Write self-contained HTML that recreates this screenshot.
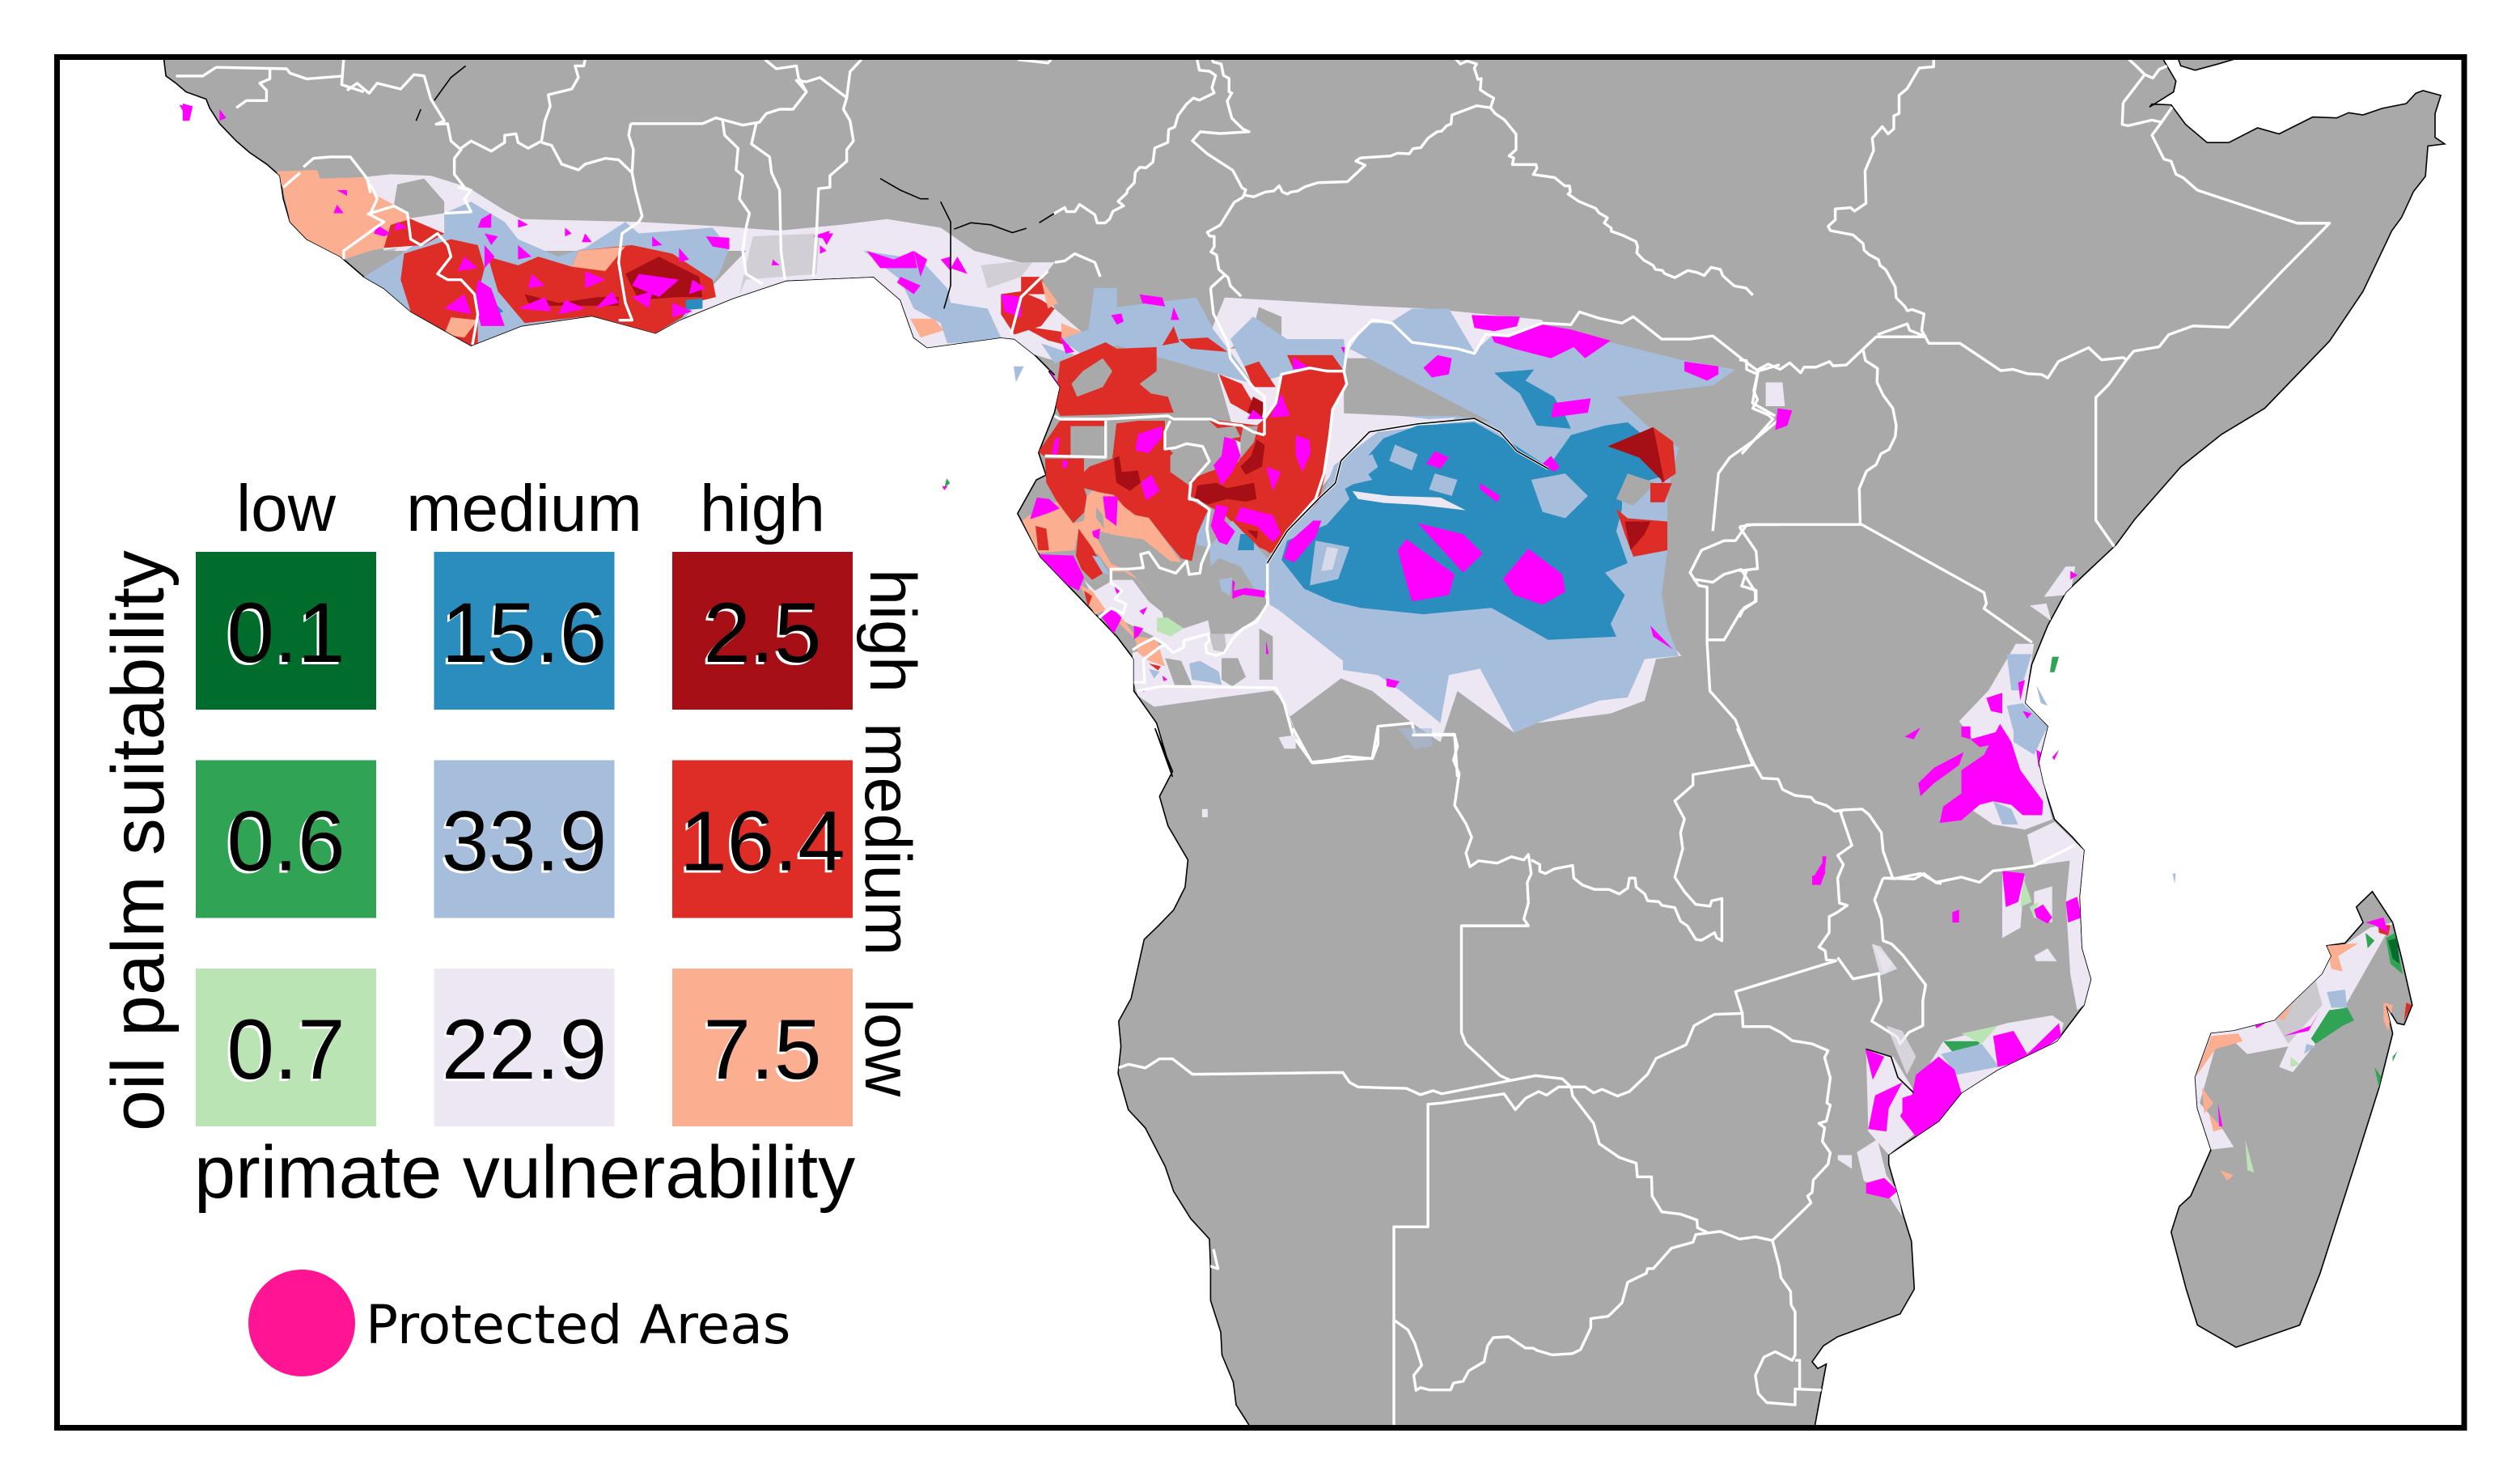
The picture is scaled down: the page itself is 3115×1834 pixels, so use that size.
<!DOCTYPE html>
<html lang="en">
<head>
<meta charset="utf-8">
<title>Oil palm suitability and primate vulnerability map</title>
<style>
html,body{margin:0;padding:0;background:#fff;width:3115px;height:1834px;overflow:hidden}
svg{display:block}
.lav{fill:#ece7f2}.lb{fill:#a6bddb}.bl{fill:#2b8cbe}.dr{fill:#a50f15}.rd{fill:#de2d26}.sa{fill:#fcae91}
.mg{fill:#ff00ff}.lg{fill:#bae4b3}.gr{fill:#31a354}.dg{fill:#006d2c}.ld{fill:#a9a9a9}
.b polyline{fill:none;stroke:#fff;stroke-width:3.4;vector-effect:non-scaling-stroke;stroke-linejoin:round}
.k polyline{fill:none;stroke:#000;stroke-width:1.6;vector-effect:non-scaling-stroke}
text{font-family:"Liberation Sans",sans-serif;fill:#000}
</style>
</head>
<body>
<svg id="fig" xmlns="http://www.w3.org/2000/svg" width="3115" height="1834" viewBox="0 0 3115 1834">
<defs>
<clipPath id="fc"><rect x="70" y="70" width="2976" height="1694"/></clipPath>
<clipPath id="lc"><path id="lc1"/><path id="lc2"/></clipPath>
</defs>
<rect width="3115" height="1834" fill="#fff"/>
<g clip-path="url(#fc)">
<path id="land" fill="#a9a9a9" stroke="#000" stroke-width="1.6"/>
<path id="madagascar" fill="#a9a9a9" stroke="#000" stroke-width="1.6"/>
<path id="yemen" fill="#a9a9a9" stroke="#000" stroke-width="1.6"/>

<g clip-path="url(#lc)">
<!-- West Africa -->
<g transform="translate(60,60) scale(.8291,.3571)">
<polygon class="lav" points="470,445 510,435 570,440 625,480 680,560 705,590 880,600 1000,615 1090,630 1180,610 1250,590 1330,620 1380,700 1450,740 1500,740 1480,800 1500,900 1540,980 1568,1060 1500,1080 1470,1060 1420,1000 1310,1035 1290,1000 1270,870 1230,790 1100,803 1020,865 940,940 1040,700 900,700 700,700 600,700 500,700"/>
<polygon class="ld" points="520,470 560,450 590,530 590,570 530,590 515,540"/>
<polygon class="ld" opacity=".4" points="1050,650 1150,640 1145,780 1040,800 1030,850"/>
<polygon class="ld" opacity=".4" points="1390,750 1470,730 1450,790 1400,830"/>
<polygon class="lb" points="590,570 630,530 680,600 700,660 760,720 800,690 860,600 880,640 990,620 1015,690 1000,780 950,930 905,985 705,960 632,1028 540,910 470,790 520,720 545,680 590,640"/>
<polygon class="lb" points="1215,700 1300,730 1340,830 1345,880 1400,900 1420,1000 1375,1015 1340,1020 1330,950 1290,900 1270,800"/>
<polygon class="sa" points="340,425 400,420 405,450 470,445 490,510 530,560 545,600 520,680 480,700 440,730 385,660 360,600 350,490"/>
<polygon class="ld" opacity=".7" points="470,710 520,690 500,730 450,745"/>
<polygon class="sa" points="1285,935 1320,935 1335,975 1300,1000"/>
<polygon class="rd" points="530,710 600,660 640,680 650,760 640,850 640,1020 630,1028 540,910 525,800"/>
<polygon class="rd" points="655,720 700,750 730,720 780,755 790,700 870,680 930,710 990,800 995,860 960,880 945,930 905,985 810,925 710,950 670,840"/>
<polygon class="rd" points="510,610 540,590 590,640 560,680 500,690"/>
<polygon class="sa" points="780,755 790,700 860,685 830,770"/>
<polygon class="sa" points="600,930 640,940 620,1000 590,990"/>
<polygon class="rd" points="1420,850 1450,840 1480,870 1500,900 1480,960 1440,990 1420,920"/>
<polygon class="rd" points="1450,790 1480,790 1490,850 1450,850"/>
<polygon class="sa" points="1480,800 1505,880 1490,900"/>
<polygon class="rd" points="1450,960 1540,990 1540,1040 1490,1010"/>
<polygon class="sa" points="1510,950 1540,980 1510,1010"/>
<polygon class="lb" points="1480,1020 1530,1060 1500,1090"/>
<polygon class="bl" points="950,870 975,865 975,900 950,905"/>
<polygon class="bl" points="665,880 678,910 668,920"/>
<polygon class="dr" points="710,850 760,880 820,860 850,860 850,890 790,890 740,890 715,880"/>
<polygon class="dr" points="860,780 910,720 970,790 975,860 940,860 880,870"/>
<g class="mg">
<polygon points="640,800 660,830 680,960 645,960 635,880"/><polygon points="620,720 640,760 610,770"/><polygon points="490,610 510,640 500,650 485,640"/><polygon points="700,680 720,720 700,730"/><polygon points="800,640 810,670 795,670"/><polygon points="980,650 1015,655 1015,695 990,685"/><polygon points="1220,700 1260,730 1290,700 1295,760 1240,760"/><polygon points="1420,850 1450,860 1450,930 1425,910"/><polygon points="840,840 850,880 815,900"/><polygon points="770,870 800,900 760,920"/><polygon points="880,780 940,800 910,860 870,820"/><polygon points="1270,790 1300,820 1290,850 1265,810"/><polygon points="1355,720 1370,780 1345,760"/><polygon points="430,490 445,490 445,510"/><polygon points="255,210 265,240 255,250"/><polygon points="645,590 660,570 660,620 640,620"/><polygon points="650,640 670,650 660,680"/><polygon points="700,590 715,610 700,620"/><polygon points="620,850 590,900 630,920"/><polygon points="1290,700 1310,730 1300,790"/><polygon points="1150,640 1170,640 1160,680"/>
<polygon points="700,900 740,860 750,910"/><polygon points="870,860 900,840 895,900"/><polygon points="930,880 960,910 930,930"/><polygon points="720,780 740,820 715,830"/><polygon points="800,770 830,800 800,830"/><polygon points="1330,730 1345,720 1345,770"/><polygon points="770,620 780,640 770,650"/><polygon points="1140,650 1165,630 1160,660"/><polygon points="1080,730 1090,750 1078,750"/><polygon points="1150,680 1160,700 1150,710"/><polygon points="650,680 665,720 650,760"/><polygon points="940,690 955,730 940,740"/><polygon points="900,650 915,680 900,685"/><polygon points="960,800 980,830 955,850"/><polygon points="430,540 440,570 425,570"/><polygon points="520,600 535,620 515,630"/>
</g>
<g class="k">
<polyline points="622,60 600,100 575,180"/><polyline points="548,250 555,210"/><polyline points="1240,450 1270,490 1300,520 1312,520"/><polyline points="1330,530 1345,600 1345,820 1335,900"/><polyline points="1350,625 1375,603 1405,610 1437,637 1458,622"/><polyline points="1477,603 1515,548"/>
</g>
<g class="b">
<polyline points="190,95 230,95 250,65 355,70 360,85 385,105 440,95"/>
<polyline points="440,38 437,125 470,150"/>
<polyline points="445,145 460,120 478,155 490,120 525,140 545,90 560,95 570,175 590,250 578,262 595,260 600,320 615,350 605,380 605,435 620,480"/>
<polyline points="330,70 330,105 315,120 325,145 325,180 295,180 280,205"/>
<polyline points="800,38 798,60 785,60 790,100 780,140 745,160 748,200 740,250 735,320 715,345 700,325 697,295 680,300 680,325 660,355 630,320 612,350"/>
<polyline points="735,325 750,335 765,400 790,420 800,400 830,380 850,385 870,430 875,490 885,580 880,600 855,640 850,740 860,880 870,940 850,940"/>
<polyline points="868,260 975,260 995,240 1035,265 1060,255 1070,225 1090,210 1110,210 1130,150 1115,110 1130,115 1150,100 1190,170 1185,210 1195,250 1200,320 1190,350 1190,390 1165,440 1165,480 1148,485 1145,640 1140,790"/>
<polyline points="868,260 865,300 872,350 870,430"/>
<polyline points="1005,250 1008,300 1028,345 1025,420 1035,440 1030,520 1045,570 1040,620 1035,700 1040,780 1065,815"/>
<polyline points="1055,260 1048,330 1075,375 1078,430 1090,490 1092,700 1098,800"/>
<polyline points="1068,38 1085,70 1115,60 1118,100 1130,150"/>
<polyline points="1212,38 1195,80 1190,170"/>
<polyline points="1445,38 1490,50 1495,38"/>
<polyline points="1500,740 1515,735 1530,710 1560,740 1568,790"/>
<polyline points="1490,770 1450,860 1435,990"/>
<polyline points="380,410 395,380 420,375 450,375 475,450 480,500"/>
<polyline points="350,480 375,430"/>
<polyline points="480,470 490,520 480,570 515,545 535,570 540,660 555,680 580,640 595,680 600,720 580,780 595,800 615,800 635,850 640,920 632,1025"/>
<polyline points="475,570 500,600 440,700 440,730"/>
<polyline points="610,480 630,490 620,520 630,565 590,570"/>
</g>
</g>

<!-- Central Africa fills -->
<g transform="translate(1100,340) scale(.7015,.3954)">
<polygon class="lav" points="590,70 690,80 830,95 950,105 1150,140 1150,260 800,260 800,440 780,620 700,800 640,700 560,200"/>
<polygon class="ld" points="650,100 690,130 690,200 650,230 600,230 640,170"/>
<polygon class="lav" points="660,1000 680,1100 740,1180 780,1250 850,1300 920,1400 970,1460 1000,1300 1100,1430 1140,1400 1270,1370 1330,1330 1350,1200 1395,1190 1350,1100 1000,1000"/>
<polygon class="lb" points="360,40 400,40 400,100 540,70 570,170 600,240 640,340 400,220 340,250 300,200 350,170"/>
<polygon class="lb" points="600,200 640,130 700,200 800,200 805,300 700,310 640,340"/>
<polygon class="lb" points="810,230 840,150 880,150 920,105 985,105 1030,240 1060,190 1270,210 1395,265 1490,295 1450,345 1330,370 1280,380 1340,480 1390,540 1370,680 1370,860 1360,1000 1370,1100 1390,1190 1330,1200 1300,1320 1250,1330 1140,1400 1100,1430 1040,1230 985,1250 970,1400 900,1300 860,1250 780,1230 720,1120 670,1050 665,900 700,800 760,700 790,560 800,440 900,440 1000,440 1060,460"/>
<polygon class="lav" points="780,430 900,440 950,450 1000,445 960,470 860,490 800,570 765,620 775,500"/>
<polygon class="bl" points="870,510 930,470 1030,460 1100,530 1160,600 1200,500 1260,470 1300,460 1340,520 1380,620 1340,640 1290,680 1290,730 1280,800 1300,900 1260,930 1295,1000 1270,1090 1280,1130 1160,1140 1090,1070 1060,1040 940,1060 830,1040 780,1020 730,980 690,890 700,830 770,780 810,700 800,660 850,640 830,590"/>
<polygon class="bl" points="1065,305 1135,295 1120,330 1170,380 1190,440 1200,480 1140,470 1110,370 1080,330"/>
<polygon class="lb" points="800,590 850,560 860,600 830,640 800,670"/>
<polygon class="lb" points="890,530 930,560 920,610 880,580"/>
<polygon class="lb" points="960,620 1000,640 990,690 950,670"/>
<polygon class="lav" points="815,675 880,690 970,695 1015,735 930,718 870,712 825,700"/>
<polygon class="lb" points="1130,640 1190,620 1230,690 1190,760 1150,740"/>
<polygon class="lb" points="750,830 810,850 790,950 740,970"/>
<polygon class="lav" opacity=".7" points="770,850 790,855 780,920 760,925"/>
<polygon class="ld" points="1300,620 1350,650 1310,720 1280,700"/>
<polygon class="rd" points="690,310 740,295 800,300 805,340 780,420 775,500 765,620 750,700 700,800 670,870 620,800 590,750 560,720 530,690 535,640 590,640 610,600 640,480 660,450 680,400"/>
<polygon class="rd" points="300,270 380,210 400,230 470,225 470,300 440,340 460,370 490,380 500,430 300,440 290,400"/>
<polygon class="ld" points="340,300 375,260 392,300 375,350 330,380 320,340"/>
<polygon class="rd" points="510,200 560,195 595,240 530,230"/>
<polygon class="rd" points="480,220 500,160 510,210"/>
<polygon class="rd" points="625,285 650,270 680,350 640,350"/>
<polygon class="rd" points="700,250 780,250 800,300 740,290 710,290"/>
<polygon class="rd" points="580,310 620,340 650,430 640,440 600,400"/>
<polygon class="rd" points="560,450 650,470 660,500 640,540 590,500"/>
<polygon class="rd" points="1345,475 1380,520 1385,620 1360,650"/>
<polygon class="rd" points="1340,650 1378,650 1365,710 1340,710"/>
<polygon class="rd" points="1280,730 1300,760 1370,770 1370,860 1310,880 1295,810"/>
<polygon class="dr" points="640,380 660,400 655,450 630,430"/>
<polygon class="dr" points="1265,535 1345,475 1355,560 1365,650 1320,570"/>
<polygon class="dr" points="1295,770 1340,770 1330,810 1305,860"/>
<g class="mg">
<polygon points="440,60 480,70 485,98 445,88"/><polygon points="390,125 408,120 412,145 400,155"/><polygon points="1025,125 1110,130 1105,160 1065,175 1030,165"/><polygon points="1060,190 1090,190 1150,155 1200,170 1270,205 1225,260 1205,225 1165,260 1100,230 1065,210"/><polygon points="965,250 990,260 985,310 955,320 940,290"/><polygon points="1400,270 1460,285 1460,310 1440,330 1400,300"/><polygon points="1170,400 1235,385 1230,430 1165,445"/><polygon points="960,550 985,570 970,605 945,590"/><polygon points="1040,650 1075,690 1070,710 1040,670"/><polygon points="1165,565 1180,600 1170,615 1150,590"/><polygon points="930,775 1010,810 1045,870 1010,930"/><polygon points="910,825 995,935 985,1000 920,1020 910,960 895,860"/><polygon points="1125,855 1185,935 1190,990 1150,1030 1100,1000 1080,950"/><polygon points="1340,1095 1380,1170 1345,1130"/><polygon points="875,1260 898,1270 890,1290 875,1285"/><polygon points="690,370 705,440 670,445"/><polygon points="640,420 660,450 630,450"/><polygon points="710,255 740,290 710,295"/><polygon points="795,225 802,225 800,245"/><polygon points="500,100 510,140 495,140"/><polygon points="300,190 325,240 310,245"/><polygon points="280,290 300,350 285,330"/>
</g>
</g>

<!-- Gabon / Congo detail -->
<g transform="translate(1240,520) scale(.33333)">
<polygon class="lav" points="480,860 590,830 700,800 770,790 850,790 930,740 985,680 1020,700 1260,890 1260,950 1060,1100 1100,1190 1040,1040 1000,1000 560,1060 500,1020 480,960"/>
<polygon class="ld" points="600,880 660,890 700,980 640,990"/>
<polygon class="ld" points="810,880 870,880 900,950 850,985 810,960"/>
<polygon class="ld" points="950,770 1000,800 1000,960 950,960"/>
<polygon class="ld" opacity=".6" points="760,780 820,780 830,860 780,850"/>
<polygon class="lav" points="300,590 340,630 410,590 480,590 540,670 590,710 600,760 670,770 760,740 770,790 640,850 560,800 440,740 360,700"/>
<polygon class="lb" points="690,900 730,890 800,930 810,980 770,970 700,960"/>
<polygon class="lb" points="540,920 580,930 560,955"/>
<polygon class="lb" points="740,335 765,340 765,470 720,460 710,420"/>
<polygon class="lb" points="765,470 780,450 850,370 980,510 980,640 930,620 880,540 800,510 770,540"/>
<polygon class="lb" points="800,590 850,580 840,650 810,630"/>
<polygon class="bl" points="880,420 930,420 930,480 870,480"/>
<polygon class="rd" points="155,140 300,140 300,190 320,170 405,140 420,10 500,0 600,0 600,90 640,130 620,190 690,240 690,290 760,330 720,420 700,520 660,510 610,450 540,360 490,350 450,320 420,290 340,260 300,250 310,280 300,340 260,380 200,300 160,230"/>
<polygon class="rd" points="130,115 190,30 210,0 380,0 380,20 250,20 250,130 150,130"/>
<polygon class="ld" points="640,110 760,150 700,240 620,190 620,130"/>
<polygon class="rd" points="690,220 760,190 880,150 960,50 1000,0 1210,0 1195,200 1170,300 1060,400 1000,490 950,470 850,370 820,340 770,320"/>
<polygon class="ld" points="880,140 930,80 945,20 890,20 880,70"/>
<polygon class="ld" points="770,30 860,20 880,60 820,70"/>
<polygon class="sa" points="70,370 100,350 200,300 260,380 300,370 310,280 330,260 410,275 450,320 490,350 540,360 600,440 660,525 620,520 520,440 420,425 360,410 350,440 400,530 470,560 510,600 580,690 500,590 450,560 400,560 350,490 300,530 280,400 265,480 130,490"/>
<polygon class="ld" points="345,320 370,350 375,400 345,360"/>
<polygon class="rd" points="280,400 330,470 380,560 330,590 290,550 270,500"/>
<polygon class="rd" points="120,390 160,400 170,480 130,480"/>
<polygon class="lb" points="330,500 355,505 395,570 370,565"/>
<polygon class="sa" points="285,610 330,630 380,700 340,720"/>
<polygon class="rd" points="300,630 330,650 315,690"/>
<polygon class="sa" points="420,740 445,735 490,800 570,810 600,910 540,890 500,860 490,810"/>
<polygon class="rd" points="540,900 585,910 575,925"/>
<polygon class="lg" points="570,730 610,730 670,770 620,800 570,780"/>
<polygon class="dr" points="720,240 790,230 830,250 930,230 940,290 900,300 830,290 760,310 710,290"/>
<polygon class="dr" points="410,140 430,130 440,190 500,185 510,230 470,260 420,230"/>
<polygon class="dr" points="940,70 970,90 960,170 900,200 880,170 920,130"/>
<polygon class="dr" points="905,405 945,410 940,440"/>
<g class="mg">
<polygon points="130,495 260,500 300,580 280,630 200,590 150,530"/>
<polygon points="125,285 170,290 210,325 160,345 100,365"/>
<polygon points="360,720 400,690 440,730 410,790"/>
<polygon points="485,760 520,770 500,800 485,810"/>
<polygon points="790,310 835,320 820,370 860,410 830,460 800,450 770,390"/>
<polygon points="860,370 880,320 1000,350 1030,420 1000,450 940,390 900,380"/>
<polygon points="1060,450 1150,370 1180,370 1160,430 1080,525 1040,510"/>
<polygon points="510,230 550,200 580,260 530,295"/>
<polygon points="370,280 425,280 420,390 380,360"/>
<polygon points="780,165 810,130 820,60 860,70 880,130 850,190 810,240"/>
<polygon points="975,170 1030,190 1000,260"/>
<polygon points="1085,55 1135,70 1140,120 1110,190 1085,130"/>
<polygon points="500,50 590,20 590,60 540,120 490,110"/>
<polygon points="330,410 360,400 355,440 335,430"/>
<polygon points="850,590 860,600 855,630 900,620 970,630 970,655 890,645 850,660"/>
<polygon points="410,610 445,630 425,650"/>
<polygon points="505,705 535,690 520,720"/>
<polygon points="590,945 610,960 595,965"/>
<polygon points="505,1000 560,985 520,1005"/>
<polygon points="975,815 985,865 975,865"/>
<polygon points="220,145 240,150 235,175 220,175"/>
<polygon points="190,70 210,60 200,130 180,130"/>
</g>
<g class="b">
<polyline points="155,130 380,135 380,0"/>
<polyline points="620,0 600,40 600,105 640,100 680,85 740,95 765,150 695,230 690,290 720,295 765,330 755,400 765,460 735,530 730,565 690,570 680,520 640,565 580,545 540,487 510,495 520,545 460,550 400,550 400,600 440,630 415,660 455,680 445,715 400,695 355,730"/>
<polyline points="480,850 510,830 560,805 600,830 630,860 670,840 670,815 760,790 765,815 750,830 755,860 790,870 820,860 850,810 890,770 940,745 980,680 980,530"/>
<polyline points="520,885 580,840 600,830"/>
<polyline points="520,885 525,970 480,970"/>
</g>
</g>

<!-- Central Africa borders -->
<g transform="translate(1100,340) scale(.7015,.3954)">
<g class="b">
<polyline points="290,440 300,450 380,450 490,440 500,450 565,450 580,462 620,470 640,490 660,500"/>
<polyline points="640,350 660,380 660,500"/>
<polyline points="565,40 590,0"/><polyline points="565,40 570,120 595,210 600,260 640,350"/>
<polyline points="800,300 770,300 740,290 690,310 680,400 660,450"/>
<polyline points="800,300 805,240 810,210 850,140 885,150 920,210 1000,230 1030,245 1050,185 1090,190 1150,150 1200,155 1215,115 1250,135 1290,150 1310,130 1360,200 1410,200 1450,190 1500,260 1530,300 1568,280"/>
<polyline points="800,300 805,340 780,420 775,500 765,620 750,700 700,800 665,900"/>
<polyline points="435,1300 480,1285 680,1290 695,1340 710,1440 745,1525 850,1510 860,1410 920,1400 925,1435 995,1435 1000,1568"/>
<polyline points="1530,300 1520,400 1560,440"/><polyline points="1568,450 1520,520 1480,570 1460,620 1450,800"/>
<polyline points="1568,780 1510,780 1490,830 1470,830 1430,860 1410,930 1425,970 1440,975 1440,1150 1445,1300 1490,1390 1520,1530"/>
<polyline points="1440,1140 1470,1140 1500,1050 1525,1020 1525,990 1500,920 1470,935 1450,960 1415,950"/>
<polyline points="700,800 755,700 785,650 795,580 845,490 930,465 1030,450 1075,490 1105,550 1160,605"/>
</g>
<g class="k">
<polyline points="665,900 700,800 755,700 785,650 795,580 845,490 930,465 1030,448 1075,490 1105,550 1160,605"/>
</g>
</g>

<!-- Southern Africa -->
<g transform="translate(1300,900) scale(.7015,.5612)">
<polygon class="lav" points="265,178 275,178 275,196 265,196"/>
<polygon class="lav" points="400,20 430,15 430,45 410,45"/>
<polygon class="lb" opacity=".6" points="610,0 670,0 670,40 640,45"/>
<g class="mg"><polygon points="1358,282 1365,282 1362,320 1355,345 1340,345 1340,325 1358,320"/></g>
<polygon class="lav" opacity=".8" points="1445,475 1460,480 1490,530 1460,545"/>
<polygon class="lav" points="1385,940 1410,940 1410,970 1385,950"/>
<g class="b">
<polyline points="425,0 458,75 490,70 520,62 565,67 575,35 575,0"/>
<polyline points="635,15 710,15 715,40 708,70 718,100 710,170 730,210 740,240 730,275 737,305 752,292 785,297 810,283 832,290 840,278 845,320 838,340 840,385 832,420 840,435 722,435 722,670 730,695 790,765 808,775"/>
<polyline points="118,748 135,740 165,748 190,728 213,728 248,762 513,758 525,780 540,790 585,792 625,793 650,807 672,798 687,805 853,765 900,772 915,790"/>
<polyline points="845,290 860,300 860,315 870,320 885,310 918,302 920,330 935,345 957,355 982,355 1000,365 1015,352 1018,330 1028,330 1030,350 1045,365 1050,380 1070,382 1075,390 1098,395 1108,425 1120,435 1135,465 1145,467 1168,450 1172,462 1181,468 1181,375 1163,380 1160,392 1135,388 1115,360 1098,328 1112,265 1108,230 1115,200 1098,160 1130,125 1130,102 1238,80 1208,0"/>
<polyline points="1238,80 1252,110 1280,112 1288,135 1310,148 1338,152 1345,162 1365,170 1380,183 1395,180 1390,185 1405,240 1410,258 1385,280 1395,300 1385,330 1388,385 1402,390 1385,405 1370,415 1370,450 1352,482 1363,490 1365,510 1382,512 1205,580 1217,628 1168,630 1132,655 1118,697 1065,727 1050,762 1018,800 997,810 970,795 955,803 940,790 918,790 893,790 872,808 858,800 835,815 817,840 797,805 690,825 663,828 663,1098 603,1098 603,1535"/>
<polyline points="915,790 918,810 955,870 965,915 1000,945 1030,958 1032,988 1057,988 1058,1030 1075,1065 1108,1070 1137,1083 1138,1100 1155,1110"/>
<polyline points="1217,628 1218,657 1250,657 1265,657 1285,670 1305,688 1340,695 1368,710 1362,725 1372,770 1366,825 1372,830 1365,865 1352,870 1362,880 1358,910 1372,935 1368,960 1342,995 1340,1022 1332,1030 1338,1045 1270,1128 1240,1120 1212,1125 1178,1108 1135,1115 1130,1132 1092,1145 1060,1190 1050,1190 1048,1200 1015,1220 1005,1265 985,1290 980,1295 950,1300 950,1320 932,1368 918,1377 882,1380 855,1370 848,1365 835,1365 805,1340 778,1342 768,1360 762,1395 735,1415 725,1438 708,1442 703,1457 665,1457 650,1452 642,1458 638,1425 652,1403 640,1355 628,1325 603,1303"/>
<polyline points="1270,1128 1282,1185 1285,1210 1302,1240 1303,1270 1310,1285 1310,1380 1305,1392 1275,1373 1255,1385 1240,1425 1245,1465 1260,1485 1310,1490 1310,1455 1365,1458"/>
<polyline points="1310,1392 1318,1392 1318,1455"/>
<polyline points="285,1147 293,1190 275,1183"/>
<polyline points="1465,330 1450,378 1462,420 1465,468 1480,475 1500,500 1540,565 1535,600 1535,655 1510,670 1495,695 1490,680 1445,645 1462,600 1457,540 1412,552 1385,505"/>
<polyline points="1465,330 1520,332 1537,320 1558,340 1568,342"/>
<polyline points="1465,330 1482,330 1465,270 1462,230 1440,190 1428,178 1395,180"/>
</g>
</g>

<!-- East Africa -->
<g transform="translate(2200,700) scale(.5612,.6378)">
<polygon class="lav" points="395,300 460,240 520,150 560,150 540,265 590,310 570,380 600,490 540,510 470,500 420,470 350,490 440,430 510,340 430,340"/>
<polygon class="lb" points="500,170 555,170 530,240 510,240"/>
<polygon class="lb" points="500,270 535,265 590,310 560,365 515,340 515,320"/>
<polygon class="lav" points="545,520 605,495 670,550 640,570 560,580"/>
<polygon class="lb" points="470,455 510,470 525,500 490,500"/>
<polygon class="mg" points="400,395 450,365 485,305 510,340 530,395 580,455 578,482 535,482 510,462 470,455 440,462 400,492 352,497 360,465 400,440"/>
<g class="mg"><polygon points="455,255 490,245 490,285 465,280"/><polygon points="400,310 420,310 420,335 400,330"/><polygon points="420,335 480,320 500,340 440,350"/><polygon points="305,420 340,390 405,360 395,385 340,420 310,445"/><polygon points="275,330 310,312 295,335"/><polygon points="535,280 555,285 545,295"/><polygon points="565,355 583,365 570,390"/><polygon points="100,565 100,595 85,615 72,605"/><polygon points="525,225 540,220 530,260"/></g>
<polygon class="lav" points="640,560 670,550 660,640 665,740 685,800 670,850 655,860 640,790 630,650"/>
<polygon class="lav" points="490,590 540,595 530,700 490,720"/>
<polygon class="lav" points="560,630 600,620 600,690 560,680"/>
<polygon class="lav" points="560,755 590,740 610,765 565,765"/>
<polygon class="lg" points="535,600 555,650 530,660"/>
<polygon class="lg" points="550,660 570,650 560,680"/>
<g class="mg"><polygon points="490,590 540,595 525,650 498,660"/><polygon points="560,665 580,655 600,680 590,692 565,680"/><polygon points="630,650 655,640 665,680 635,690"/><polygon points="380,670 395,665 395,690 380,690"/></g>
<polygon class="lav" points="190,935 250,950 295,1015 360,920 500,885 600,870 625,885 615,925 400,1020 290,1105 240,1140 195,1095"/>
<polygon class="lav" points="170,1135 215,1110 235,1180 260,1210 270,1260 240,1220 185,1190"/>
<polygon class="lav" opacity=".7" points="235,890 270,900 300,950 280,985"/>
<polygon class="lav" opacity=".7" points="205,730 250,770 230,790"/>
<polygon class="gr" points="360,920 445,920 400,960"/>
<polygon class="lg" points="400,905 480,890 445,925"/>
<polygon class="lb" points="355,945 445,925 475,960 480,970 390,985"/>
<g class="mg"><polygon points="190,1195 230,1185 260,1210 240,1225 190,1215"/><polygon points="470,910 515,900 545,945 615,885 620,910 550,955 480,970"/><polygon points="300,985 350,950 385,975 400,1020 350,1075 300,1105 265,1065 290,1030"/><polygon points="188,935 230,950 205,995"/><polygon points="210,1025 270,1000 240,1050 235,1095 195,1090"/><polygon points="270,1030 305,1020 300,1100 270,1060"/></g>
<!-- Madagascar -->
<polygon class="lav" points="950,905 1130,845 1210,760 1250,730 1300,700 1350,690 1240,860 1180,925 1130,980 1100,970 1120,930 1030,945 1000,920 960,930 925,1040 975,1090 1000,1125 950,1130 920,1050 915,990"/>
<polygon class="ld" opacity=".5" points="1090,880 1180,800 1195,850 1120,925"/>
<polygon class="sa" points="915,990 950,910 1010,905 1020,920 960,935"/>
<polygon class="sa" points="1095,875 1130,850 1110,880"/>
<polygon class="sa" points="930,1010 955,1040 935,1060"/><polygon class="sa" points="945,1060 975,1090 955,1095"/><polygon class="sa" points="1205,735 1275,730 1230,755 1240,785 1215,780"/><polygon class="sa" points="970,1170 1000,1180 985,1190"/><polygon class="sa" points="1330,845 1350,850 1340,900 1330,880"/>
<polygon class="lb" points="1205,825 1245,820 1250,855 1215,855"/><polygon class="lb" points="1160,925 1180,930 1155,945"/>
<polygon class="gr" points="1170,915 1210,860 1250,855 1265,880 1240,890 1180,925"/><polygon class="gr" points="1335,720 1355,710 1372,790 1345,770"/><polygon class="gr" points="1290,710 1310,725 1295,740"/><polygon class="gr" points="1310,970 1325,990 1320,1010"/>
<polygon class="dg" points="1340,725 1360,720 1365,770 1350,760"/>
<polygon class="rd" points="1318,695 1345,695 1340,715 1320,710"/><polygon class="rd" points="1380,845 1392,850 1375,880"/>
<g class="mg"><polygon points="1110,910 1170,890 1190,860 1165,900"/><polygon points="1290,690 1330,680 1340,710 1310,695"/><polygon points="965,1040 975,1085 968,1085"/><polygon points="1045,885 1070,885 1050,895"/></g>
<polygon class="lg" points="1025,1110 1045,1175 1030,1170"/><polygon class="lg" points="1125,950 1145,965 1125,970"/>
<g class="b">
<polyline points="228,604 252,605 310,595 345,612 400,602 440,612 470,590 520,585 560,580 650,540"/>
</g>
<g class="k"><polyline points="190,935 245,950 260,990 295,1020"/></g>
</g>

<!-- Horn of Africa -->
<g class="b" transform="translate(2150,60) scale(.5931,.5357)">
<polyline points="405,25 405,42 375,45 350,92 333,108 333,150 322,155 322,185 310,197 298,180 277,207 280,235 262,282 264,357 240,375 232,367 200,370 200,395 185,410 190,420 237,430 258,450 260,465 270,475 290,487 293,500 305,510 325,550 327,575 345,595 350,605 360,602 385,612 380,650 395,680 460,680 545,743 570,740 600,750 630,752 643,760 665,722 728,690 755,718 800,713 807,718 770,775 743,805 743,1088 782,1150"/>
<polyline points="807,718 822,698 875,688 895,660 945,640 1020,643 1130,515 1230,403 1163,403 955,327 925,298 910,290 900,260 885,255 860,200 880,170 902,135"/>
<polyline points="800,125 798,175 810,178 860,165 880,170"/>
<polyline points="800,125 845,60 862,68 875,48 892,40"/>
<polyline points="812,25 825,38 845,60"/>
<polyline points="258,695 263,720 288,738 287,770 300,800 320,830 327,870 325,895 312,925 295,935 285,960 265,975 250,1015 252,1098"/>
<polyline points="288,660 350,635 355,650 390,665"/>
<polyline points="390,665 285,665 223,730 195,732 188,722 160,735 135,735 128,748 105,725 85,740 60,728 40,740 35,750 15,740 15,720 0,718"/>
<polyline points="0,1103 30,1098 255,1098 510,1255 515,1280 510,1292 610,1370"/>
<polyline points="40,740 30,790 38,810 28,830 60,845 70,855 5,935"/>
<polyline points="0,1103 35,1160 38,1200 0,1205"/>
<polyline points="15,1205 5,1240 35,1250 35,1275 10,1290 0,1312"/>
</g>
<g transform="translate(2150,60) scale(.5931,.5357)">
<polygon class="lav" points="55,770 90,770 95,825 55,825"/>
<polygon class="mg" points="80,830 110,835 100,870 75,880"/>
<polygon class="lav" points="680,1195 700,1195 690,1260 635,1265"/>
<polygon class="mg" points="690,1205 705,1215 690,1225"/>
<polygon class="lav" points="605,1285 640,1280 650,1320"/>
</g>

<!-- North borders -->
<g class="b" transform="translate(1300,60) scale(.574,.2551)">
<polyline points="312,40 318,105 340,110 353,130 345,190 350,215 318,250 305,240 290,270 272,325 265,380 252,392 250,455 222,482 218,550 203,578 190,575 180,600 178,650 163,685 162,700 143,740 155,762 132,788 125,825 115,845 98,845 93,805 60,755 50,790 32,790 28,770 5,800"/>
<polyline points="343,40 348,65 365,75 370,130 382,145 382,210 388,215 378,255 388,338 412,390 425,403 362,412 320,403 303,447 335,510 390,590 410,675 418,685 412,720 393,745 363,855 335,890 340,908 350,910 350,960 343,985 355,1000 360,1070 380,1110 385,1150 408,1200"/>
<polyline points="415,710 435,718 460,695 478,690 490,665 497,695 508,705 515,695 530,690 545,670 573,650 637,645 675,565 655,545 665,530 730,520 745,507 770,510 778,485 795,480 810,435 830,403 840,400 850,375 860,365 862,322 915,277 945,287 952,240 940,225 923,200 925,145 918,150 910,95 915,75 895,60 880,75 870,50 875,40"/>
<polyline points="945,287 955,315 975,345 1000,415 1000,490 985,520 995,530 992,562 1043,562 1045,580 1037,610 1083,625 1105,665 1115,665 1117,695 1112,705 1135,740 1172,775 1178,795 1197,820 1190,845 1205,870 1205,885 1230,905 1258,935 1262,960 1260,990 1275,1025 1295,1050 1300,1070 1315,1075 1320,1090 1342,1110 1370,1075 1390,1085 1405,1100 1420,1060 1440,1070 1445,1100 1470,1150 1495,1160 1510,1195"/>
</g>
</g>

<!-- Offshore islands -->
<g>
<g class="mg" transform="translate(60,60) scale(.8291,.3571)"><polygon points="200,190 215,200 210,250 200,250"/><polygon points="195,195 205,200 200,215"/></g>
<g transform="translate(2200,700) scale(.5612,.6378)">
<polygon class="gr" points="600,175 615,175 605,205 595,205"/>
<polygon class="lb" points="565,230 590,270 575,265"/>
<polygon class="mg" points="600,370 615,355 605,375"/>
<polygon class="lb" points="865,595 872,595 870,615"/>
<polygon class="gr" points="1350,950 1360,940 1350,960"/>
</g>
<g transform="translate(1100,340) scale(.7015,.3954)">
<polygon class="gr" points="100,635 106,650 96,665"/>
<polygon class="mg" points="92,660 102,660 96,672"/>
<polygon class="lb" points="218,285 236,285 222,335"/>
</g>
</g>
</g>

<rect x="70.5" y="70.5" width="2975.5" height="1694" fill="none" stroke="#000" stroke-width="7"/>

<g id="legend"></g>

<text transform="translate(202,1398) rotate(-90)" font-size="91.6">oil palm suitability</text>
<text x="240" y="1480" font-size="91.9">primate vulnerability</text>
<circle cx="373" cy="1635" r="66" fill="#ff1493"/>
<text x="452" y="1660" font-size="66.3" style="font-family:'DejaVu Sans',sans-serif">Protected Areas</text>
</svg>

<script>
// Bivariate legend values (% of area), one array per suitability row
const vulnerabilityLevels = ['low', 'medium', 'high'];
const suitabilityLevels = ['high', 'medium', 'low'];
const shareHighSuitability = [0.1, 15.6, 2.5];
const shareMediumSuitability = [0.6, 33.9, 16.4];
const shareLowSuitability = [0.7, 22.9, 7.5];
const shareRows = [shareHighSuitability, shareMediumSuitability, shareLowSuitability];
const colorsHighSuitability = ['#006d2c', '#2b8cbe', '#a50f15'];
const colorsMediumSuitability = ['#31a354', '#a6bddb', '#de2d26'];
const colorsLowSuitability = ['#bae4b3', '#ece7f2', '#fcae91'];
const colorRows = [colorsHighSuitability, colorsMediumSuitability, colorsLowSuitability];

const NS = 'http://www.w3.org/2000/svg';
const colX = function (i) { return 242 + 294.5 * i; };
const rowY = function (i) { return 682 + 257.5 * i; };
const cellW = 223, cellH = 195;
const legend = document.getElementById('legend');

function txt(str, x, y, size) {
  const t = document.createElementNS(NS, 'text');
  t.setAttribute('x', x);
  t.setAttribute('y', y);
  t.setAttribute('font-size', size);
  t.setAttribute('text-anchor', 'middle');
  t.textContent = str;
  legend.appendChild(t);
  return t;
}

vulnerabilityLevels.forEach(function (lvl, c) {
  const t = txt(lvl, colX(c) + cellW / 2, 656, 82);
  
  
});
suitabilityLevels.forEach(function (lvl, r) {
  const t = txt(lvl, 0, 0, 81);
  t.setAttribute('x', 0);
  t.setAttribute('y', 0);
  t.setAttribute('transform', 'translate(' + (lvl === 'high' ? 1076 : 1070) + ',' + (rowY(r) + cellH / 2) + ') rotate(90)');
  
  
});
shareRows.forEach(function (row, r) {
  row.forEach(function (v, c) {
    const rect = document.createElementNS(NS, 'rect');
    rect.setAttribute('x', colX(c));
    rect.setAttribute('y', rowY(r));
    rect.setAttribute('width', cellW);
    rect.setAttribute('height', cellH);
    rect.setAttribute('fill', colorRows[r][c]);
    
    
    legend.appendChild(rect);
    const cx = colX(c) + cellW / 2;
    const by = rowY(r) + 136;
    const s = txt(v.toFixed(1), cx - 3, by + 3, 105);
    s.setAttribute('style', 'fill:#fff');
    
    
    const n = txt(v.toFixed(1), cx, by, 105);
    
    
  });
});

// Coastline traced in reference crop space, converted to page pixels
const frames = {
  a: [60, 60, .8291, .3571],
  b: [1100, 340, .7015, .3954],
  c: [1300, 900, .7015, .5612],
  d: [2200, 700, .5612, .6378],
  e: [2150, 60, .5931, .5357]
};
function conv(f, str) {
  const m = frames[f];
  return str.trim().split(/\s+/).map(function (p) {
    const q = p.split(',');
    return (m[0] + q[0] * m[2]).toFixed(1) + ' ' + (m[1] + q[1] * m[3]).toFixed(1);
  });
}
function pathOf(segs) {
  let pts = [];
  segs.forEach(function (s) { pts = pts.concat(conv(s[0], s[1])); });
  return 'M' + pts.join('L') + 'Z';
}
const mainlandCoast = [
  ['a', '172,30 172,38 175,95 190,120 205,150 235,175 240,205 255,260 280,320 300,360 325,400 345,440 350,520 360,600 385,660 435,720 470,790 500,830 540,910 630,1028 705,960 810,925 905,985 940,940 1020,865 1100,803 1230,790 1270,870 1290,1000 1310,1035 1420,1000 1440,1005 1470,1060 1500,1130'],
  ['b', '280,300 300,350 290,430 262,555 275,625 258,640 225,745 265,880 330,1000 400,1130 430,1200 430,1300 470,1400 498,1568'],
  ['c', '182,0 213,95 190,150 205,215 240,290 235,350 215,400 188,435 163,465 155,510 140,595 118,645 122,700 117,760 135,840 165,880 200,965 215,1020 245,1080 278,1125 280,1190 280,1260 298,1330 300,1380 320,1440 325,1490 348,1535 355,1560 1340,1560 1345,1535 1365,1400 1350,1410 1340,1395 1360,1360 1385,1340 1495,1290 1520,1235 1515,1130 1500,1070 1475,960'],
  ['d', '240,1140 350,1075 400,1020 480,975 610,920 670,850 685,800 665,740 660,640 670,550 645,525 605,490 580,420 570,380 590,310 540,265 555,190 590,115 630,50 690,0'],
  ['e', '737,1195 785,1145 825,1085 920,965 1005,890 1095,830 1230,675 1300,560 1360,420 1380,390 1405,330 1430,295 1435,225 1470,220 1450,205 1450,150 1462,108 1425,97 1410,103 1390,127 1340,138 1300,153 1270,148 1245,160 1195,158 1125,197 1080,183 1020,217 975,217 930,175 900,130 860,128 855,135 905,100 910,75 885,28 885,10']
];
const madagascarCoast = [
  ['d', '1305,630 1270,660 1285,690 1245,730 1205,735 1215,755 1195,790 1130,845 1090,880 1000,900 950,905 915,990 920,1050 950,1130 905,1220 880,1240 862,1290 895,1400 920,1470 1005,1513 1145,1470 1190,1370 1270,1150 1320,1010 1350,905 1335,850 1360,885 1375,888 1393,850 1370,760 1350,690']
];
const arabiaCoast = [
  ['e', '915,10 915,25 920,40 950,50 1000,35 1030,25 1030,10']
];
document.getElementById('land').setAttribute('d', pathOf(mainlandCoast));
document.getElementById('madagascar').setAttribute('d', pathOf(madagascarCoast));
document.getElementById('yemen').setAttribute('d', pathOf(arabiaCoast));
document.getElementById('lc1').setAttribute('d', pathOf(mainlandCoast));
document.getElementById('lc2').setAttribute('d', pathOf(madagascarCoast));
</script>
</body>
</html>
